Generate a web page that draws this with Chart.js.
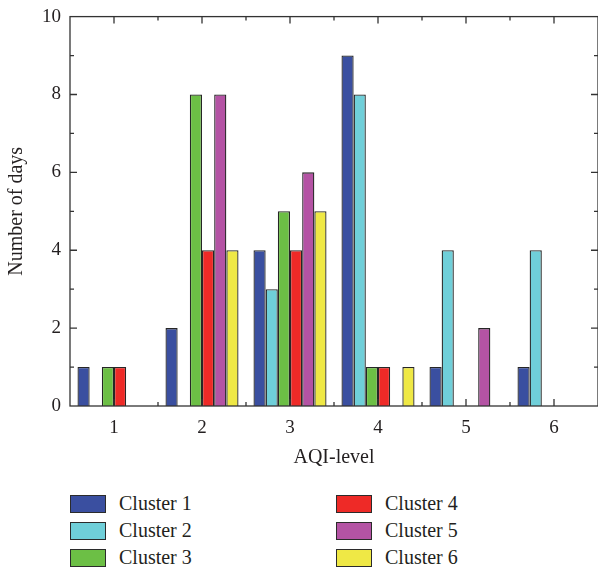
<!DOCTYPE html>
<html>
<head>
<meta charset="utf-8">
<script src="https://cdn.jsdelivr.net/npm/chart.js@4.4.0/dist/chart.umd.min.js"></script>
<style>
    html, body { margin: 0; padding: 0; background: #fff; }
    #wrap { position: relative; width: 598px; height: 573px; overflow: hidden; }
    #chart { position: absolute; left: 0; top: 0; }
    #legend { position: absolute; left: 0; top: 0; font-family: "Liberation Serif", serif; font-size: 20px; color: #231f20; }
    .item { position: absolute; height: 19px; display: flex; align-items: center; white-space: nowrap; }
    .box { width: 34px; height: 16px; border: 1.3px solid #2b2b2b; margin-right: 13px; }
</style>
</head>
<body>
<div id="wrap">
    <canvas id="chart" width="598" height="480"></canvas>
    <div id="legend"></div>
</div>
<script>
// AQI levels on the x axis
var levels = ['1', '2', '3', '4', '5', '6'];

// number of days per cluster at each AQI level
var cluster1 = [1, 2, 4, 9, 1, 1];
var cluster2 = [0, 0, 3, 8, 4, 4];
var cluster3 = [1, 8, 5, 1, 0, 0];
var cluster4 = [1, 4, 4, 1, 0, 0];
var cluster5 = [0, 8, 6, 0, 2, 0];
var cluster6 = [0, 4, 5, 1, 0, 0];

var clusterNames = ['Cluster 1', 'Cluster 2', 'Cluster 3', 'Cluster 4', 'Cluster 5', 'Cluster 6'];
var clusterColors = ['#3a4fa0', '#6fcfd9', '#6cbf45', '#ee2a27', '#b453a4', '#efe845'];

// y axis range and step
var yMin = 0;
var yMax = 10;
var yStep = 2;

var serif = '"Liberation Serif", "Times New Roman", serif';
var textColor = '#231f20';
var lineColor = '#333333';

// box around the plot with inward ticks, minor ticks in between
var frameTicks = {
    id: 'frameTicks',
    afterDraw: function (chart) {
        var ctx = chart.ctx;
        var a = chart.chartArea;
        var xs = chart.scales.x;
        var ys = chart.scales.y;
        var major = 7, minor = 4;
        var i, p, v;

        ctx.save();
        ctx.strokeStyle = lineColor;
        ctx.lineWidth = 1.3;
        ctx.strokeRect(a.left, a.top, a.right - a.left, a.bottom - a.top);

        ctx.beginPath();
        for (i = 0; i < levels.length; i++) {
            p = xs.getPixelForValue(i);
            ctx.moveTo(p, a.bottom); ctx.lineTo(p, a.bottom - major);
            ctx.moveTo(p, a.top); ctx.lineTo(p, a.top + major);
            if (i < levels.length - 1) {
                p = xs.getPixelForValue(i + 0.5);
                ctx.moveTo(p, a.bottom); ctx.lineTo(p, a.bottom - minor);
                ctx.moveTo(p, a.top); ctx.lineTo(p, a.top + minor);
            }
        }
        for (v = yMin + 1; v < yMax; v++) {
            var len = (v % yStep === 0) ? major : minor;
            p = ys.getPixelForValue(v);
            ctx.moveTo(a.left, p); ctx.lineTo(a.left + len, p);
            ctx.moveTo(a.right, p); ctx.lineTo(a.right - len, p);
        }
        ctx.stroke();
        ctx.restore();
    }
};

function buildDatasets() {
    var series = [cluster1, cluster2, cluster3, cluster4, cluster5, cluster6];
    var sets = [];
    for (var i = 0; i < series.length; i++) {
        sets.push({
            label: clusterNames[i],
            data: series[i],
            backgroundColor: clusterColors[i],
            borderColor: '#262626',
            borderWidth: 1.3,
            borderSkipped: 'bottom'
        });
    }
    return sets;
}

// two-column legend, filled column by column
function buildLegend() {
    var legend = document.getElementById('legend');
    var colX = [70, 336];
    var rowY = [494, 521, 548];
    for (var i = 0; i < clusterNames.length; i++) {
        var item = document.createElement('div');
        item.className = 'item';
        item.style.left = colX[Math.floor(i / 3)] + 'px';
        item.style.top = rowY[i % 3] + 'px';
        var box = document.createElement('span');
        box.className = 'box';
        box.style.background = clusterColors[i];
        var label = document.createElement('span');
        label.textContent = clusterNames[i];
        item.appendChild(box);
        item.appendChild(label);
        legend.appendChild(item);
    }
}

var ctx = document.getElementById('chart').getContext('2d');
var chart = new Chart(ctx, {
    type: 'bar',
    data: {
        labels: levels,
        datasets: buildDatasets()
    },
    options: {
        responsive: false,
        animation: false,
        layout: { padding: { top: 14, right: 0, left: 0, bottom: 0 } },
        datasets: { bar: { categoryPercentage: 0.83, barPercentage: 1.0 } },
        plugins: {
            legend: { display: false },
            tooltip: { enabled: false }
        },
        scales: {
            x: {
                offset: true,
                grid: { display: false, drawTicks: false },
                border: { display: false },
                ticks: { font: { family: serif, size: 19 }, color: textColor, padding: 11 },
                title: {
                    display: true,
                    text: 'AQI-level',
                    font: { family: serif, size: 20 },
                    color: textColor,
                    padding: { top: 0, bottom: 10 }
                },
                afterFit: function (scale) { scale.height = 74; }
            },
            y: {
                min: yMin,
                max: yMax,
                grid: { display: false, drawTicks: false },
                border: { display: false },
                // small lineHeight keeps the top label from pushing the plot down
                ticks: { stepSize: yStep, font: { family: serif, size: 19, lineHeight: 0.8 }, color: textColor, padding: 9 },
                title: {
                    display: true,
                    text: 'Number of days',
                    font: { family: serif, size: 20 },
                    color: textColor,
                    padding: { top: 5, bottom: 0 }
                },
                afterFit: function (scale) { scale.width = 70; }
            }
        }
    },
    plugins: [frameTicks]
});

buildLegend();
</script>
</body>
</html>
